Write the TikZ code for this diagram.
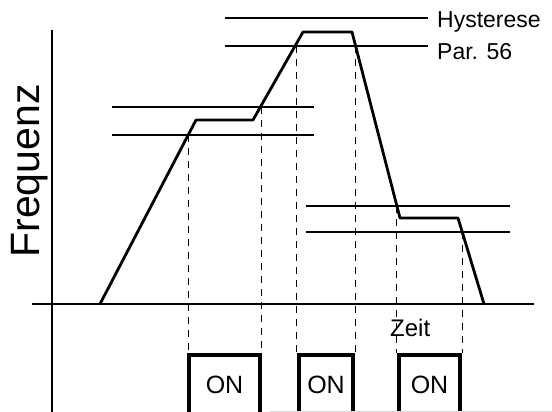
\documentclass[tikz,border=0pt]{standalone}
\usepackage{fontspec}
\setmainfont{Liberation Sans}
\newcommand\lblfont{\fontsize{23pt}{27pt}\selectfont}
\newcommand\onfont{\fontsize{25pt}{29pt}\selectfont}
\newcommand\zeitfont{\fontsize{24pt}{28pt}\selectfont}
\newcommand\freqfont{\fontsize{41pt}{48pt}\selectfont}
\begin{document}
\begin{tikzpicture}[x=1pt,y=-1pt,
  axis/.style={line width=2.6pt},
  curve/.style={line width=2.8pt,line join=round},
  level/.style={line width=1.7pt},
  guide/.style={line width=0.9pt,dash pattern=on 7pt off 6pt},
  onbox/.style={draw,line width=4.5pt,minimum height=60pt,inner sep=0pt,font=\onfont},
  lbl/.style={inner sep=0pt,font=\lblfont}]
\useasboundingbox (0,0) rectangle (552,412);
\fill[white] (0,0) rectangle (552,412);

% axes
\coordinate (ytop) at (52,30);
\coordinate (ybot) at (52,416);
\coordinate (xl) at (32,304);
\coordinate (xr) at (534,304);
\draw[axis] (ytop) -- (ybot);
\draw[axis] (xl) -- (xr);

% switching levels (hysteresis pairs)
\coordinate (a1) at (112,107); \coordinate (a2) at (314,107);
\coordinate (b1) at (112,135); \coordinate (b2) at (314,135);
\coordinate (c1) at (225,18);  \coordinate (c2) at (428,18);
\coordinate (d1) at (225,46);  \coordinate (d2) at (428,46);
\coordinate (e1) at (306,206); \coordinate (e2) at (510,206);
\coordinate (f1) at (306,232); \coordinate (f2) at (510,232);
\draw[level] (a1) -- (a2);
\draw[level] (b1) -- (b2);
\draw[level] (c1) -- (c2);
\draw[level] (d1) -- (d2);
\draw[level] (e1) -- (e2);
\draw[level] (f1) -- (f2);

% frequency profile
\coordinate (p0) at (100,304);
\coordinate (p1) at (196,120);
\coordinate (p2) at (253,120);
\coordinate (p3) at (303,32);
\coordinate (p4) at (352,32);
\coordinate (p5) at (400,218);
\coordinate (p6) at (458,218);
\coordinate (p7) at (484,304);
\draw[curve] (p0) -- (p1) -- (p2) -- (p3) -- (p4) -- (p5) -- (p6) -- (p7);

% ON boxes
\node[onbox,minimum width=71pt] (on1) at (224.5,385) {ON};
\node[onbox,minimum width=54pt] (on2) at (326,385) {ON};
\node[onbox,minimum width=61pt] (on3) at (429.5,385) {ON};

% crossing points and guide lines
\coordinate (s1) at (188,135);
\coordinate (s2) at (261,107);
\coordinate (s3) at (296,46);
\coordinate (s4) at (355,46);
\coordinate (s5) at (396,206);
\coordinate (s6) at (462,232);
\foreach \s in {s1,s2} \draw[guide] (\s) -- (\s |- on1.north);
\foreach \s in {s3,s4} \draw[guide] (\s) -- (\s |- on2.north);
\foreach \s in {s5,s6} \draw[guide] (\s) -- (\s |- on3.north);

% labels
\node[lbl,anchor=base west] (hys) at (437,28) {Hysterese};
\node[lbl,anchor=base west] (par) at (437,60) {Par. 56};
\node[inner sep=0pt,anchor=base west,font=\zeitfont] (zeit) at (390,336) {Zeit};
\node[inner sep=0pt,anchor=base,rotate=90,font=\freqfont] (freq) at (39,171) {Frequenz};

% scan edge
\draw[black!15,line width=0.8pt] (270,411) -- (552,411);
\end{tikzpicture}
\end{document}
